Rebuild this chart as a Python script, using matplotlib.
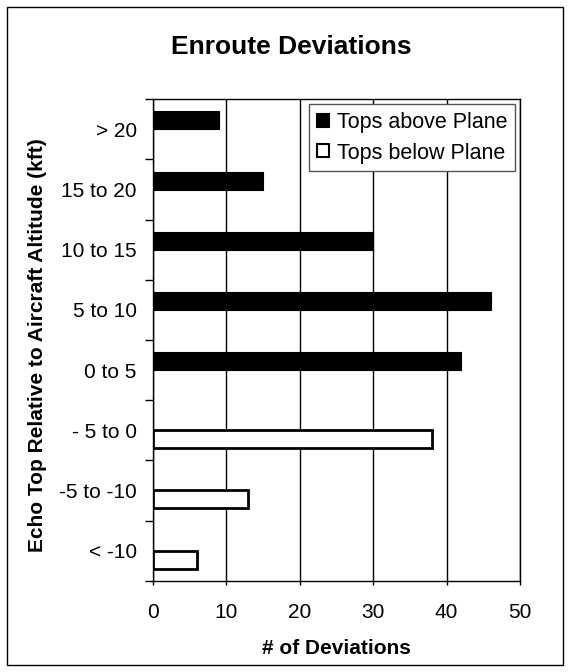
import matplotlib
matplotlib.use("Agg")
import matplotlib.pyplot as plt
from matplotlib.patches import Rectangle, Patch
import numpy as np

plt.rcParams['font.family'] = ['Liberation Sans', 'DejaVu Sans']

categories = ["> 20", "15 to 20", "10 to 15", "5 to 10", "0 to 5", "- 5 to 0", "-5 to -10", "< -10"]
tops_above = [9, 15, 30, 46, 42, 0, 0, 0]
tops_below = [0, 0, 0, 0, 0, 38, 13, 6]
xticks = [0, 10, 20, 30, 40, 50]

W, H = 570, 672
fig = plt.figure(figsize=(W / 100, H / 100), dpi=100)
top_px, bot_px, left_px, right_px = 99.3, 580.7, 152.7, 520
ax = fig.add_axes([left_px / W, 1 - bot_px / H, (right_px - left_px) / W, (bot_px - top_px) / H])

y = np.arange(len(categories))
bh = 0.3
a = np.array(tops_above, dtype=float)
b = np.array(tops_below, dtype=float)
ma = a > 0
mb = b > 0
ax.barh(y[ma] - 0.15, a[ma], height=bh, color='black', edgecolor='black', linewidth=0.8, zorder=3)
ax.barh(y[mb] + 0.15, b[mb], height=bh, color='white', edgecolor='black', linewidth=2, zorder=3)

ax.set_xlim(0, 50)
ax.set_ylim(len(categories) - 0.5, -0.5)
ax.set_xticks(xticks)
ax.set_xticklabels([str(v) for v in xticks], fontsize=15)
ax.set_yticks(np.arange(-0.5, len(categories), 1.0))
ax.set_yticklabels([])
ax.set_yticks(y, minor=True)
ax.set_yticklabels(categories, minor=True, fontsize=15)
ax.tick_params(axis='y', which='major', length=6, width=1, direction='out')
ax.tick_params(axis='y', which='minor', length=0, pad=11.5)
ax.tick_params(axis='x', which='major', length=3, width=1, direction='out', pad=13)
ax.xaxis.grid(True, color='black', linewidth=1)
ax.set_axisbelow(True)
for s in ax.spines.values():
    s.set_color('black')
    s.set_linewidth(1)

fig.text(336 / W, 1 - 648 / H, "# of Deviations", ha='center', va='center', fontsize=15, fontweight='bold')
fig.text(38 / W, 1 - 345 / H, "Echo Top Relative to Aircraft Altitude (kft)", ha='center', va='center',
         rotation=90, fontsize=15, fontweight='bold')
fig.text(291 / W, 1 - 47 / H, "Enroute Deviations", ha='center', va='center', fontsize=19, fontweight='bold')

handles = [Patch(facecolor='black', edgecolor='black', linewidth=1.5),
           Patch(facecolor='white', edgecolor='black', linewidth=1.5)]
leg = fig.legend(handles, ["Tops above Plane", "Tops below Plane"], loc='upper right',
                 bbox_to_anchor=(515 / W, 1 - 104.3 / H), fontsize=15.5, frameon=True,
                 fancybox=False, framealpha=1, edgecolor='#555555', handlelength=0.55,
                 handleheight=0.55, handletextpad=0.39, borderpad=0.35, labelspacing=0.45,
                 borderaxespad=0)
leg.get_frame().set_linewidth(1)

fig.patches.append(Rectangle((7 / W, 7 / H), (563 - 7) / W, (665 - 7) / H, transform=fig.transFigure,
                             fill=False, edgecolor='black', linewidth=1))

fig.savefig("out.png", dpi=100)
